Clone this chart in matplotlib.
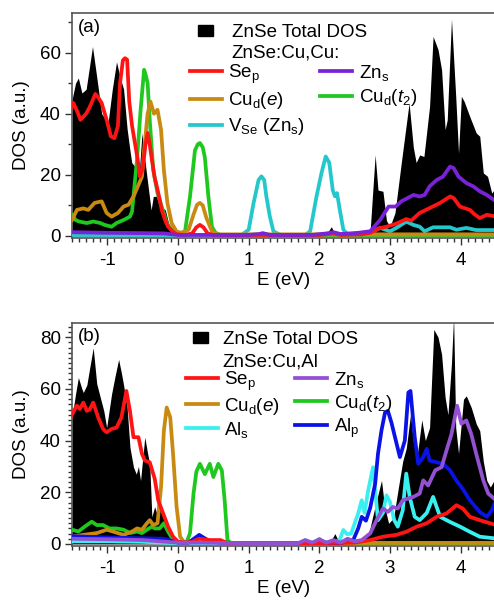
import matplotlib
matplotlib.use("Agg")
import matplotlib.pyplot as plt
from matplotlib.lines import Line2D
from matplotlib.patches import Patch
from matplotlib.ticker import MultipleLocator

plt.rcParams['font.family'] = ['Liberation Sans', 'DejaVu Sans']
plt.rcParams['mathtext.fontset'] = 'custom'
plt.rcParams['mathtext.rm'] = 'Liberation Sans'
plt.rcParams['mathtext.it'] = 'Liberation Sans:italic'
plt.rcParams['mathtext.bf'] = 'Liberation Sans:bold'
plt.rcParams['axes.unicode_minus'] = False

# ---------------- Panel (a): ZnSe:Cu,Cu ----------------
tot_a_x = [-1.5, -1.45, -1.41, -1.36, -1.3, -1.21, -1.15, -1.08, -0.99, -0.93, -0.87, -0.82, -0.77,
           -0.72, -0.68, -0.655, -0.61, -0.57, -0.55, -0.51, -0.47, -0.44, -0.40, -0.38, -0.35, -0.30,
           -0.26, -0.18, -0.11, -0.05, 0.0, 1.85, 1.91, 1.95, 2.1, 2.17, 2.22, 2.4, 2.55, 2.65, 2.72,
           2.79, 2.83, 2.9, 2.95, 3.0, 3.07, 3.16, 3.27, 3.33, 3.37, 3.42, 3.48, 3.56, 3.61, 3.68, 3.73,
           3.78, 3.81, 3.87, 3.93, 3.97, 4.01, 4.05, 4.13, 4.22, 4.27, 4.32, 4.38, 4.44, 4.5]
tot_a_y = [44.6, 50, 51.7, 46.8, 48, 62, 52, 40, 37, 48, 57, 52, 48,
           35, 28, 24, 22.7, 24.5, 20, 33.7, 25, 19.4, 12, 8.5, 12.9, 13,
           10, 8.5, 2, 0.3, 0, 0, 1, 0.3, 0.5, 3, 0.5, 0.3, 0.5, 1.5, 2,
           26.5, 15, 14.6, 5, 3, 7.5, 24, 43.5, 29, 24, 26.5, 26, 42.4, 65.3, 61, 54.4,
           34.8, 38, 71, 45.7, 27, 45.7, 44, 39, 33.7, 32.6, 20.6, 19.5, 14, 16]

sep_a_x = [-1.5, -1.48, -1.43, -1.38, -1.3, -1.245, -1.17, -1.12, -1.08, -1.01, -0.95, -0.9, -0.85,
           -0.82, -0.78, -0.75, -0.72, -0.69, -0.65, -0.61, -0.57, -0.54, -0.5, -0.46, -0.43, -0.40,
           -0.37, -0.33, -0.3, -0.26, -0.23, -0.18, -0.14, -0.08, -0.02, 0.1, 0.2, 0.26, 0.31, 0.36,
           0.42, 0.5, 2.0, 2.2, 2.3, 2.6, 2.72, 2.85, 2.95, 3.09, 3.23, 3.3, 3.42, 3.57, 3.71, 3.85,
           3.9, 3.99, 4.13, 4.2, 4.27, 4.37, 4.5]
sep_a_y = [42.4, 43.5, 41, 38, 40, 42.4, 46.5, 45, 43.5, 38, 32.6, 32, 36,
           50, 57.5, 58.2, 57.7, 44, 36, 30.5, 25, 19.4, 22, 30, 33.7, 30,
           25, 19, 16.2, 12, 8.5, 5, 3, 1.5, 0.5, 0.3, 0.8, 2.8, 3.6, 2.8,
           0.8, 0.3, 0.3, 0.8, 0.3, 0.5, 1, 2.5, 3, 4, 5.5, 5, 7.5, 9.2, 10.8, 12.9,
           12.4, 9.6, 8.5, 7, 5.8, 6.9, 6.3]

cut2_a_x = [-1.5, -1.45, -1.4, -1.29, -1.2, -1.1, -1.04, -0.94, -0.87, -0.77, -0.68, -0.65, -0.63,
            -0.58, -0.53, -0.48, -0.46, -0.43, -0.40, -0.35, -0.29, -0.23, -0.16, -0.07, 0.03, 0.1,
            0.17, 0.24, 0.28, 0.31, 0.35, 0.38, 0.43, 0.48, 0.53, 0.6, 4.5]
cut2_a_y = [6.9, 5.2, 4.7, 4.2, 4.7, 4.2, 3.6, 3.0, 4.2, 5.2, 6.3, 8, 12.9,
            25, 41, 54.4, 53, 50, 38, 21.6, 14, 9.6, 4.2, 1.4, 0.8, 1.5,
            12.9, 28, 30, 30.4, 29, 25.7, 12.9, 3, 1, 0.3, 0.3]

cue_a_x = [-1.5, -1.43, -1.34, -1.27, -1.18, -1.08, -1.01, -0.94, -0.85, -0.77, -0.70, -0.63, -0.56,
           -0.51, -0.48, -0.43, -0.39, -0.34, -0.29, -0.24, -0.20, -0.15, -0.09, -0.02, 0.05, 0.15,
           0.22, 0.27, 0.31, 0.35, 0.40, 0.48, 0.55, 4.5]
cue_a_y = [5.2, 8.5, 9, 8.5, 10.8, 11.3, 7.5, 6.3, 7.5, 9.6, 10.2, 12.9, 16.7,
           19.4, 28, 40, 44, 40, 41.3, 34.8, 21.6, 10.8, 4.2, 1.4, 1, 2,
           7, 10.2, 10.8, 10, 6, 1.5, 0.5, 0.5]

zns_a_x = [-1.5, -1.0, -0.5, -0.2, 0.0, 0.3, 1.0, 1.15, 1.2, 1.3, 1.9, 2.1, 2.2, 2.3, 2.55, 2.65,
           2.72, 2.86, 2.95, 2.98, 3.08, 3.16, 3.25, 3.33, 3.42, 3.49, 3.56, 3.66, 3.75, 3.85, 3.9,
           3.97, 4.08, 4.18, 4.27, 4.37, 4.5]
zns_a_y = [1.2, 1.0, 0.9, 0.8, 0.3, 0.3, 0.3, 0.6, 0.9, 0.3, 0.3, 0.8, 1.2, 0.6, 1.0, 1.3,
           1.5, 5.2, 8.5, 9.6, 9.6, 11.3, 12.4, 13.4, 12.9, 13.4, 16.2, 18.3, 19.4, 22.7, 22.2,
           19.4, 17.3, 16.2, 14.6, 13.4, 11.3]

vse_a_x = [-1.5, -0.5, 0.5, 0.9, 1.0, 1.07, 1.14, 1.18, 1.22, 1.25, 1.30, 1.35, 1.45, 1.8, 1.87,
           1.96, 2.03, 2.09, 2.14, 2.19, 2.22, 2.25, 2.29, 2.34, 2.4, 2.7, 2.86, 3.0, 3.09, 3.23,
           3.33, 3.42, 3.49, 3.61, 3.85, 3.94, 4.08, 4.22, 4.5]
vse_a_y = [0.3, 0.3, 0.3, 0.3, 2, 10.8, 18.3, 19.5, 18.3, 13, 6.3, 1.5, 0.3, 0.3, 1.5,
           12.9, 20.5, 26, 24, 15, 13, 14, 8.5, 2, 0.5, 0.8, 2.6, 1.5, 2.6, 4.7,
           3.6, 3, 1.5, 2.8, 2.8, 2, 2.6, 1.9, 1.9]

# ---------------- Panel (b): ZnSe:Cu,Al ----------------
tot_b_x = [-1.5, -1.45, -1.41, -1.36, -1.34, -1.29, -1.25, -1.2, -1.15, -1.1, -1.05, -1.01, -0.94,
           -0.89, -0.84, -0.8, -0.77, -0.72, -0.68, -0.63, -0.59, -0.56, -0.53, -0.47, -0.43, -0.40,
           -0.37, -0.33, -0.30, -0.28, -0.25, -0.18, -0.11, -0.04, 0.0, 1.75, 1.8, 1.85, 2.0, 2.05,
           2.15, 2.22, 2.28, 2.5, 2.6, 2.7, 2.75, 2.82, 2.88, 2.92, 2.98, 3.05, 3.12, 3.18, 3.23,
           3.29, 3.33, 3.38, 3.45, 3.5, 3.56, 3.62, 3.68, 3.73, 3.78, 3.82, 3.87, 3.90, 3.93, 3.97,
           4.04, 4.08, 4.15, 4.22, 4.27, 4.32, 4.37, 4.42, 4.5]
tot_b_y = [49, 58, 64.4, 60, 58.6, 61.5, 68, 75.9, 62, 56.7, 51.5, 45, 58,
           65, 71.4, 66, 61.5, 52.8, 37.4, 29.7, 27, 30, 24.5, 41.3, 35, 31,
           10.5, 14.4, 11.8, 21.4, 14.4, 10, 4.2, 0.3, 0, 0, 0.8, 0.2, 1.5, 0.3,
           0.5, 4, 0.5, 1, 2, 4, 10, 18, 24.6, 15, 8, 10, 22, 32, 37,
           50, 40, 33, 48, 40, 45, 83, 80, 73.4, 56.7, 50, 70, 88, 45, 35,
           56, 57.3, 52.8, 46.5, 43.8, 32, 24.5, 22, 26]

sep_b_x = [-1.5, -1.46, -1.43, -1.39, -1.34, -1.29, -1.25, -1.2, -1.13, -1.06, -1.01, -0.94, -0.87,
           -0.80, -0.73, -0.68, -0.63, -0.56, -0.51, -0.47, -0.40, -0.33, -0.28, -0.21, -0.14, -0.07,
           0.0, 0.1, 0.2, 0.3, 0.45, 0.6, 0.7, 1.0, 2.0, 2.5, 2.72, 2.9, 3.09, 3.23, 3.38, 3.52,
           3.66, 3.80, 3.94, 4.03, 4.13, 4.27, 4.5]
sep_b_y = [50, 52.2, 53.5, 52.2, 54.7, 51.5, 52, 54.7, 49, 44.5, 43.2, 44.5, 45,
           49, 59.2, 51.5, 41.3, 41.3, 34.9, 32.3, 31.6, 25.3, 16.9, 11.8, 6.7, 2.8,
           0.9, 0.5, 0.8, 2, 1.5, 1.5, 0.3, 0.3, 0.3, 0.5, 1.5, 2.8, 3.5, 4.7, 6.7, 8,
           10.5, 11.8, 15, 13.7, 10.5, 9.2, 7.3]

cue_b_x = [-1.5, -1.34, -1.15, -1.01, -0.92, -0.77, -0.65, -0.58, -0.51, -0.44, -0.40, -0.35, -0.29,
           -0.24, -0.20, -0.16, -0.11, -0.07, -0.02, 0.03, 0.08, 0.2, 4.5]
cue_b_y = [2.8, 3.5, 4.2, 5.5, 4.8, 3.5, 4.8, 6, 5.5, 8, 9.2, 7.3, 8,
           22, 43.8, 52.8, 49, 34.9, 14.4, 2.8, 0.9, 0.4, 0.4]

cut2_b_x = [-1.5, -1.41, -1.32, -1.22, -1.15, -1.06, -0.97, -0.87, -0.77, -0.68, -0.58, -0.51, -0.44,
            -0.37, -0.33, -0.26, -0.20, -0.14, -0.07, 0.02, 0.12, 0.17, 0.22, 0.26, 0.31, 0.38,
            0.45, 0.50, 0.57, 0.62, 0.66, 0.70, 0.75, 4.5]
cut2_b_y = [5.5, 4.8, 6.7, 8.6, 7.3, 7.3, 6, 6, 5.5, 4.2, 4.8, 4.2, 5.5,
            6.7, 6, 6, 8, 4.8, 1.6, 0.5, 0.5, 4.2, 19.6, 28, 31, 27,
            31, 25.9, 31, 28.5, 17, 1.5, 0.3, 0.3]

alp_b_x = [-1.5, -1.0, -0.5, -0.2, 0.0, 0.15, 0.25, 0.3, 0.36, 0.45, 0.6, 1.0, 2.3, 2.4, 2.48,
           2.55, 2.6, 2.66, 2.72, 2.79, 2.83, 2.88, 2.93, 2.97, 3.02, 3.06, 3.14, 3.21, 3.26, 3.29,
           3.35, 3.40, 3.47, 3.52, 3.56, 3.66, 3.75, 3.85, 3.94, 4.03, 4.13, 4.27, 4.37, 4.44, 4.5]
alp_b_y = [3, 2.5, 2.2, 2, 0.5, 0.5, 2.5, 3.5, 2.5, 1, 0.5, 0.3, 0.3, 1, 1.5,
           6, 10.5, 9, 14, 23.3, 34.9, 44, 50.9, 51.5, 47, 42.5, 33.6, 40, 58.6, 59.2,
           41.3, 31, 33.6, 36.8, 32.3, 31.6, 31, 28.5, 24.5, 21.3, 16.9, 12.4, 10.5, 13, 16.9]

als_b_x = [-1.5, -1.0, -0.5, 0.0, 0.5, 1.0, 1.75, 1.8, 1.85, 1.95, 2.0, 2.05, 2.2, 2.28, 2.34,
           2.39, 2.45, 2.55, 2.6, 2.64, 2.69, 2.76, 2.8, 2.83, 2.9, 2.95, 3.0, 3.06, 3.11, 3.18,
           3.23, 3.28, 3.35, 3.42, 3.52, 3.61, 3.66, 3.71, 3.85, 3.99, 4.13, 4.27, 4.5]
als_b_y = [1, 1, 0.8, 0.3, 0.3, 0.3, 0.3, 1.5, 0.5, 0.5, 2, 0.5, 1, 1, 5.4,
           3.8, 4, 11.8, 16.9, 12, 20.6, 29.7, 18, 9.2, 12, 18.8, 16.2, 9.2, 6.7, 13,
           27.2, 18, 10.5, 9.2, 12, 18.2, 14.3, 10.5, 8.5, 6.7, 4.7, 2.8, 2.1]

zns_b_x = [-1.5, -1.0, -0.5, 0.0, 0.3, 1.0, 1.7, 1.8, 1.9, 2.0, 2.1, 2.2, 2.3, 2.4, 2.5, 2.6,
           2.72, 2.81, 2.9, 2.97, 3.04, 3.11, 3.18, 3.33, 3.42, 3.47, 3.54, 3.64, 3.73, 3.80, 3.87,
           3.95, 4.01, 4.08, 4.15, 4.22, 4.32, 4.39, 4.5]
zns_b_y = [2, 1.8, 1.5, 0.5, 0.5, 0.3, 0.3, 1.5, 0.5, 1.8, 0.5, 1.5, 0.5, 2, 1, 1.5,
           4.1, 9.2, 13.7, 12.4, 14.3, 13.7, 16.9, 18.2, 19.5, 24.6, 22.6, 28.5, 29.7, 36.2, 42.5,
           53.5, 46.5, 47.8, 42.5, 34.9, 24.6, 19.5, 16.9]

xticks = [-1, 0, 1, 2, 3, 4]

RED = '#ff1414'
ORANGE = '#c98a12'
GREEN = '#1fc81f'
PURPLE_A = '#7a22d8'
PURPLE_B = '#9450d2'
CYAN_A = '#22c8cc'
CYAN_B = '#38f0f0'
BLUE = '#0a12e6'
LW = 2.7
FS = 13.5

fig = plt.figure(figsize=(4.94, 6.01), dpi=100)
W = 424 / 494
ax_a = fig.add_axes([72 / 494, 363 / 601, W, 225 / 601])
ax_b = fig.add_axes([72 / 494, 55 / 601, W, 223 / 601])


def style(ax, ylim, ymajor, yminor):
    ax.set_xlim(-1.5, 4.5)
    ax.set_ylim(*ylim)
    ax.set_xticks(xticks)
    ax.xaxis.set_minor_locator(MultipleLocator(0.1))
    ax.yaxis.set_major_locator(MultipleLocator(ymajor))
    ax.yaxis.set_minor_locator(MultipleLocator(yminor))
    ax.tick_params(which='both', direction='out', top=False, right=False,
                   labelsize=FS, color='#333333', width=1.0)
    ax.tick_params(which='major', length=5, pad=3)
    ax.tick_params(axis='x', which='major', pad=5)
    ax.tick_params(which='minor', length=3)
    for s in ax.spines.values():
        s.set_color('#555555')
        s.set_linewidth(1.2)
    ax.set_xlabel('E (eV)', fontsize=FS, labelpad=2)
    ax.set_ylabel('DOS (a.u.)', fontsize=FS, labelpad=7)


# Panel (a)
ax = ax_a
ax.fill_between(tot_a_x, tot_a_y, 0, color='black', linewidth=0, zorder=1)
ax.plot(cut2_a_x, cut2_a_y, color=GREEN, lw=LW, zorder=3)
ax.plot(cue_a_x, cue_a_y, color=ORANGE, lw=LW, zorder=4)
ax.plot(vse_a_x, vse_a_y, color=CYAN_A, lw=LW, zorder=3)
ax.plot(sep_a_x, sep_a_y, color=RED, lw=LW, zorder=5)
ax.plot(zns_a_x, zns_a_y, color=PURPLE_A, lw=LW, zorder=6)
style(ax, (-0.7, 73), 20, 10)
ax.text(0.015, 0.935, '(a)', transform=ax.transAxes, fontsize=FS, va='center', ha='left')

leg1 = ax.legend(handles=[Patch(facecolor='black', edgecolor='black')], labels=['ZnSe Total DOS'],
                 loc='center left', bbox_to_anchor=(0.297, 0.912), frameon=False, fontsize=FS,
                 handlelength=0.8, handleheight=0.5, handletextpad=1.0, borderpad=0, borderaxespad=0)
ax.add_artist(leg1)
ax.text(0.377, 0.822, 'ZnSe:Cu,Cu:', transform=ax.transAxes, fontsize=FS, va='center', ha='left')
h_a = [Line2D([], [], color=RED, lw=LW), Line2D([], [], color=ORANGE, lw=LW),
       Line2D([], [], color=CYAN_A, lw=LW), Line2D([], [], color=PURPLE_A, lw=LW),
       Line2D([], [], color=GREEN, lw=LW)]
l_a = [r'Se$_\mathrm{p}$', r'Cu$_\mathrm{d}$($e$)', r'V$_\mathrm{Se}$ (Zn$_\mathrm{s}$)',
       r'Zn$_\mathrm{s}$', r'Cu$_\mathrm{d}$($t_2$)']
ax.legend(handles=h_a, labels=l_a, ncol=2, loc='upper left', bbox_to_anchor=(0.278, 0.78),
          frameon=False, fontsize=FS, handlelength=1.7, handletextpad=0.35, columnspacing=0.8,
          labelspacing=0.25, borderpad=0, borderaxespad=0)

# Panel (b)
ax = ax_b
ax.fill_between(tot_b_x, tot_b_y, 0, color='black', linewidth=0, zorder=1)
ax.plot(cut2_b_x, cut2_b_y, color=GREEN, lw=LW, zorder=3)
ax.plot(cue_b_x, cue_b_y, color=ORANGE, lw=LW, zorder=4)
ax.plot(als_b_x, als_b_y, color=CYAN_B, lw=LW, zorder=4)
ax.plot(alp_b_x, alp_b_y, color=BLUE, lw=LW, zorder=5)
ax.plot(sep_b_x, sep_b_y, color=RED, lw=LW, zorder=6)
ax.plot(zns_b_x, zns_b_y, color=PURPLE_B, lw=LW, zorder=7)
style(ax, (-0.8, 85.5), 20, 2)
ax.text(0.015, 0.94, '(b)', transform=ax.transAxes, fontsize=FS, va='center', ha='left')

leg2 = ax.legend(handles=[Patch(facecolor='black', edgecolor='black')], labels=['ZnSe Total DOS'],
                 loc='center left', bbox_to_anchor=(0.285, 0.925), frameon=False, fontsize=FS,
                 handlelength=0.8, handleheight=0.5, handletextpad=0.8, borderpad=0, borderaxespad=0)
ax.add_artist(leg2)
ax.text(0.354, 0.826, 'ZnSe:Cu,Al', transform=ax.transAxes, fontsize=FS, va='center', ha='left')
h_b = [Line2D([], [], color=RED, lw=LW), Line2D([], [], color=ORANGE, lw=LW),
       Line2D([], [], color=CYAN_B, lw=LW), Line2D([], [], color=PURPLE_B, lw=LW),
       Line2D([], [], color=GREEN, lw=LW), Line2D([], [], color=BLUE, lw=LW)]
l_b = [r'Se$_\mathrm{p}$', r'Cu$_\mathrm{d}$($e$)', r'Al$_\mathrm{s}$',
       r'Zn$_\mathrm{s}$', r'Cu$_\mathrm{d}$($t_2$)', r'Al$_\mathrm{p}$']
ax.legend(handles=h_b, labels=l_b, ncol=2, loc='upper left', bbox_to_anchor=(0.269, 0.79),
          frameon=False, fontsize=FS, handlelength=1.7, handletextpad=0.35, columnspacing=0.8,
          labelspacing=0.15, borderpad=0, borderaxespad=0)

fig.savefig('out.png', dpi=100)
